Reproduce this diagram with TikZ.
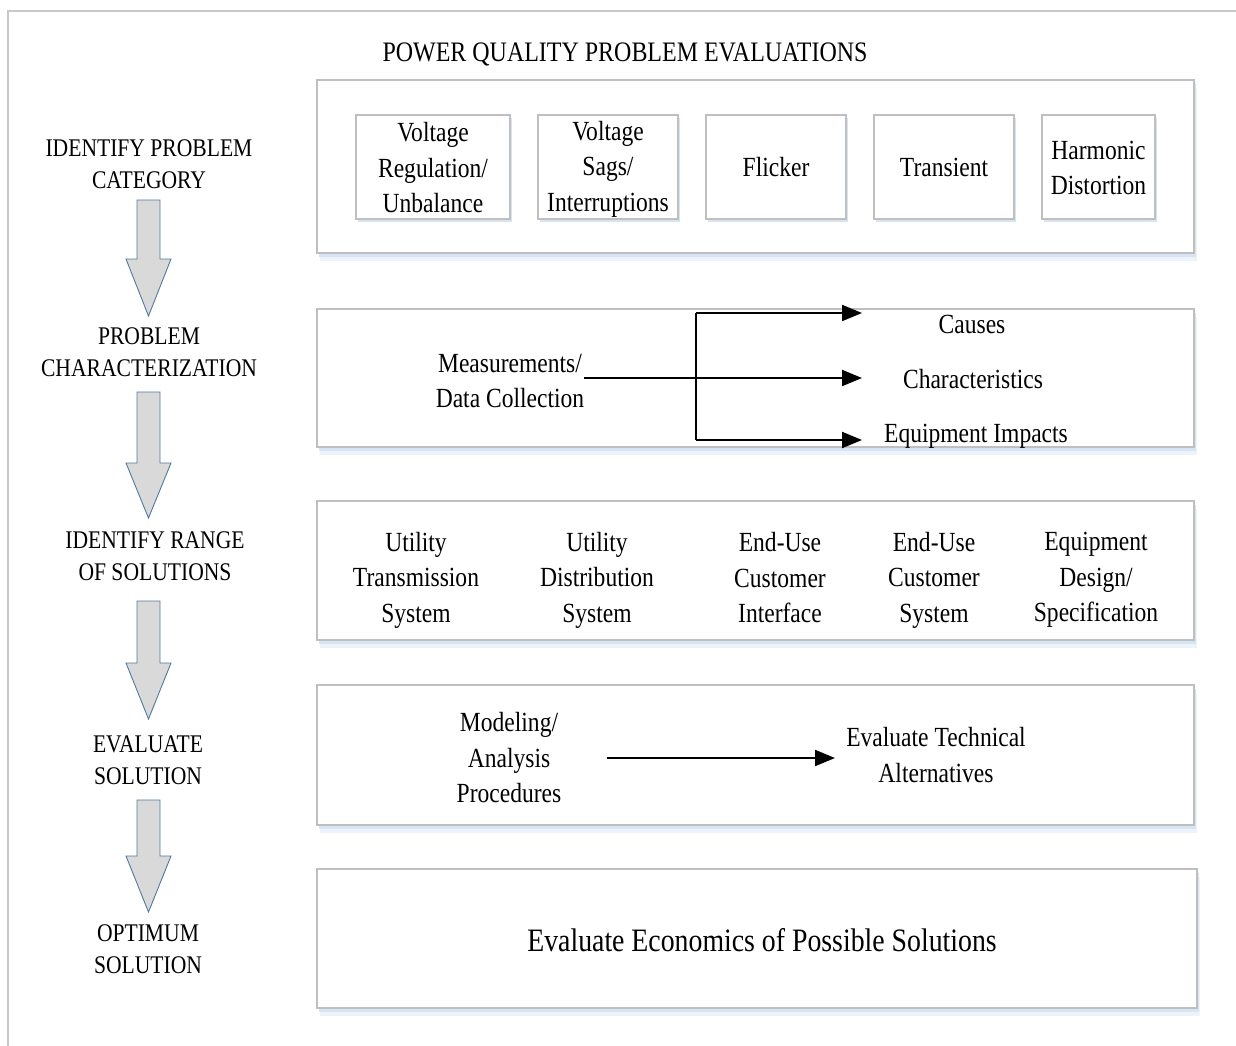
\documentclass[tikz,border=0pt]{standalone}
\usepackage{fontspec}
\setmainfont{Liberation Serif}[FakeStretch=0.85]
\usetikzlibrary{shadows,arrows.meta}
\definecolor{boxgray}{RGB}{191,191,191}
\definecolor{framegray}{RGB}{200,200,200}
\definecolor{shadowblue}{RGB}{214,228,244}
\definecolor{arrowfill}{RGB}{217,217,217}
\definecolor{arrowedge}{RGB}{84,120,160}
\newcommand\pqarrow[3]{%
  \filldraw[fill=arrowfill, draw=arrowedge, line width=0.9pt, line join=miter]
    (137,#1)--(160,#1)--(160,#2)--(171,#2)--(148.5,#3)--(126,#2)--(137,#2)--cycle;}
\begin{document}
\begin{tikzpicture}[x=1pt,y=-1pt,
  bigbox/.style={draw=boxgray, line width=1.6pt, fill=white, inner sep=0pt,
    drop shadow={shadow xshift=3pt, shadow yshift=-8pt, fill=shadowblue!45!white, opacity=1},
    drop shadow={shadow xshift=2pt, shadow yshift=-4pt, fill=shadowblue, opacity=1}},
  smallbox/.style={draw=boxgray, line width=1.6pt, fill=white, inner sep=0pt,
    minimum height=104pt,
    drop shadow={shadow xshift=2pt, shadow yshift=-3pt, fill=shadowblue, opacity=1}},
  lbl/.style={inner sep=0pt, align=center, font=\fontsize{25.4}{32}\selectfont},
  txt/.style={inner sep=0pt, align=center, font=\fontsize{27.7}{35.5}\selectfont},
  conn/.style={line width=2pt, -{Triangle[length=20pt,width=16pt]}}]
\useasboundingbox (0,0) rectangle (1236,1046);
\fill[white] (0,0) rectangle (1236,1046);
% outer frame
\draw[framegray, line width=1.6pt] (8,1050) -- (8,11) -- (1240,11);

% title
\node[inner sep=0pt, font=\fontsize{28.2}{33}\selectfont] (title) at (625,54) {POWER QUALITY PROBLEM EVALUATIONS};

% left column labels
\node[lbl] (l1) at (149,164) {IDENTIFY PROBLEM\\CATEGORY};
\node[lbl] (l2) at (149,352) {PROBLEM\\CHARACTERIZATION};
\node[lbl] (l3) at (155,556) {IDENTIFY RANGE\\OF SOLUTIONS};
\node[lbl] (l4) at (148,760) {EVALUATE\\SOLUTION};
\node[lbl] (l5) at (148,949) {OPTIMUM\\SOLUTION};

% left column block arrows
\pqarrow{200}{259}{316}
\pqarrow{392}{463}{518}
\pqarrow{601}{663}{719}
\pqarrow{800}{856}{912}

% big boxes
\node[bigbox, minimum width=877pt, minimum height=173pt] (b1) at (755.5,166.5) {};
\node[bigbox, minimum width=877pt, minimum height=138pt] (b2) at (755.5,378) {};
\node[bigbox, minimum width=877pt, minimum height=139pt] (b3) at (755.5,570.5) {};
\node[bigbox, minimum width=877pt, minimum height=140pt] (b4) at (755.5,755) {};
\node[bigbox, minimum width=880pt, minimum height=139pt] (b5) at (757,938.5) {};

% row 1 small boxes
\node[smallbox, minimum width=154pt] (s1) at (433,167) {};
\node[smallbox, minimum width=140pt] (s2) at (608,167) {};
\node[smallbox, minimum width=140pt] (s3) at (776,167) {};
\node[smallbox, minimum width=140pt] (s4) at (944,167) {};
\node[smallbox, minimum width=113pt] (s5) at (1098.5,167) {};
\node[txt] (s1t) at (433,168) {Voltage\\Regulation/\\Unbalance};
\node[txt] (s2t) at (608,169) {Voltage\\Sags/\\Interruptions};
\node[txt] (s3t) at (776,167) {Flicker};
\node[txt] (s4t) at (944,167) {Transient};
\node[txt] (s5t) at (1098.5,168) {Harmonic\\Distortion};

% row 2
\node[txt] (meas) at (510,381) {Measurements/\\Data Collection};
\node[txt] (cause) at (972,324) {Causes};
\node[txt] (char) at (973,379) {Characteristics};
\node[txt] (impact) at (976,436) {Equipment Impacts};
\coordinate (split) at (696,378);
\coordinate (splittop) at (696,313);
\coordinate (splitbot) at (696,440);
\coordinate (endtop) at (862,313);
\coordinate (endmid) at (862,378);
\coordinate (endbot) at (862,440);
\draw[line width=2pt] (splittop) -- (splitbot);
\draw[conn] (meas.east |- split) -- (endmid);
\draw[conn] (splittop) -- (endtop);
\draw[conn] (splitbot) -- (endbot);

% row 3
\node[txt] (u1) at (416,580) {Utility\\Transmission\\System};
\node[txt] (u2) at (597,580) {Utility\\Distribution\\System};
\node[txt] (u3) at (780,578) {End-Use\\Customer\\Interface};
\node[txt] (u4) at (934,580) {End-Use\\Customer\\System};
\node[txt] (u5) at (1096,580) {Equipment\\Design/\\Specification};

% row 4
\node[txt] (model) at (509,758) {Modeling/\\Analysis\\Procedures};
\node[txt] (evaltech) at (936,755) {Evaluate Technical\\Alternatives};
\coordinate (modelout) at (607,758);
\coordinate (evalin) at (835,758);
\draw[conn] (modelout) -- (evalin);

% row 5
\node[inner sep=0pt, font=\fontsize{32.7}{38}\selectfont] (econ) at (762,940) {Evaluate Economics of Possible Solutions};
\end{tikzpicture}
\end{document}
